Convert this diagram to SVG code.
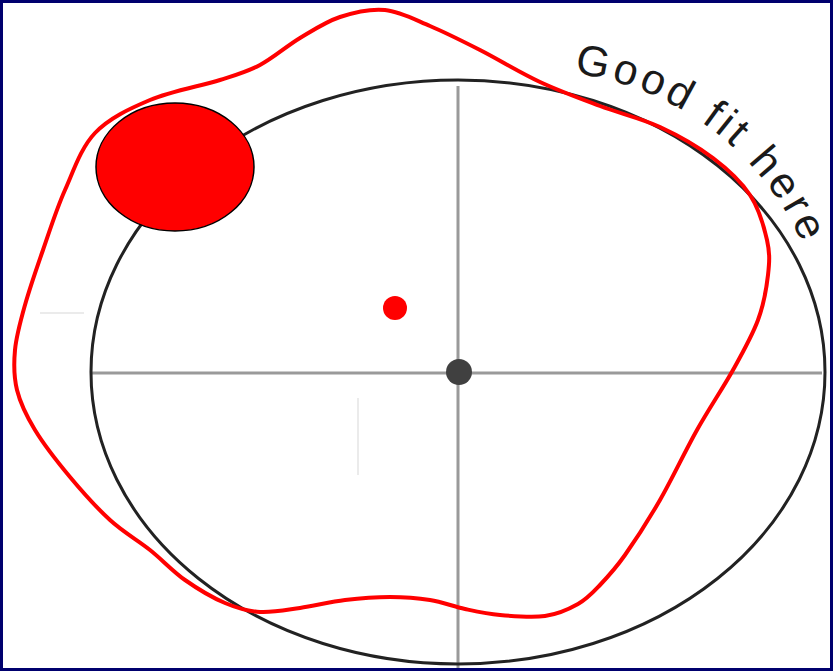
<svg xmlns="http://www.w3.org/2000/svg" width="833" height="671" viewBox="0 0 833 671">
  <style>
    .axis { stroke: #9a9a9a; stroke-width: 3; fill: none; }
    .faint { stroke: #ebebeb; stroke-width: 2; fill: none; }
    .fit { stroke: #222222; stroke-width: 3; fill: none; }
    .data { stroke: #ff0000; stroke-width: 4; fill: none; stroke-linejoin: round; }
    .label { font-family: "Liberation Sans", Arial, sans-serif; font-size: 43px; fill: #1a1a1a; letter-spacing: 4px; }
  </style>
  <defs>
    <path id="textArc" d="M 537 71 A 290 290 0 0 1 827 361"/>
  </defs>
  <rect x="0" y="0" width="833" height="671" fill="#ffffff"/>
  <g id="faint-marks">
    <line class="faint" x1="358" y1="398" x2="358" y2="475"/>
    <line class="faint" x1="40" y1="313" x2="84" y2="313"/>
  </g>
  <g id="axes">
    <line class="axis" x1="92" y1="373" x2="822" y2="373"/>
    <line class="axis" x1="458" y1="86" x2="458" y2="671"/>
  </g>
  <g id="fit-ellipse">
    <ellipse class="fit" cx="458" cy="372" rx="367" ry="292"/>
  </g>
  <g id="data-curve">
    <path class="data" d="M 385 10 C 400 11.5 414.2 19.3 430 26 S 461.7 40.7 480 50 S 520 72.7 540 82 S 580 98.5 600 106 S 641.2 118.3 660 127 S 698 146.7 713 158 S 741 181.3 750 195 S 764 226.7 767 240 S 769.5 261.7 768 275 S 763.8 304.2 758 320 S 743.2 351.7 733 370 S 709.2 408.3 697 430 S 672 479.2 660 500 S 635 540.8 625 555 S 607.8 576.8 600 585 S 587.2 598.8 578 604 S 558 614.2 545 616 S 513.3 616.2 500 615 S 476.7 611.5 465 609 S 442.5 602 430 600 S 404.2 597 390 597 S 360 598.2 345 600 S 314.2 606 300 608 S 272.5 612.8 260 612 S 237.5 608.3 225 603 S 197.5 588.8 185 580 S 162.5 560 150 550 S 123.3 532.2 110 520 S 82.5 492 70 477 S 43.8 444.5 35 430 S 20.3 403.3 17 390 S 13.7 364.2 15 350 S 20.3 321.7 25 305 S 36.3 269.2 43 250 S 56.3 209.5 65 190 S 80.8 148 95 133 S 129.2 108.8 150 100 S 201.7 85.8 220 80 S 246.7 72 260 65 S 286.7 46 300 38 S 325.8 21.7 340 17 S 370 8.5 385 10 Z"/>
  </g>
  <g id="outlier-ellipse">
    <ellipse cx="175" cy="167" rx="79" ry="64" fill="#ff0000" stroke="#000000" stroke-width="1.5"/>
  </g>
  <g id="data-centre">
    <circle cx="395" cy="308" r="12" fill="#ff0000"/>
  </g>
  <g id="fit-centre">
    <circle cx="459" cy="372" r="13" fill="#404040"/>
  </g>
  <g id="label">
    <text class="label"><textPath href="#textArc" startOffset="37">Good fit here</textPath></text>
  </g>
  <rect x="1.5" y="1.5" width="830" height="668" fill="none" stroke="#00006e" stroke-width="3"/>
</svg>
